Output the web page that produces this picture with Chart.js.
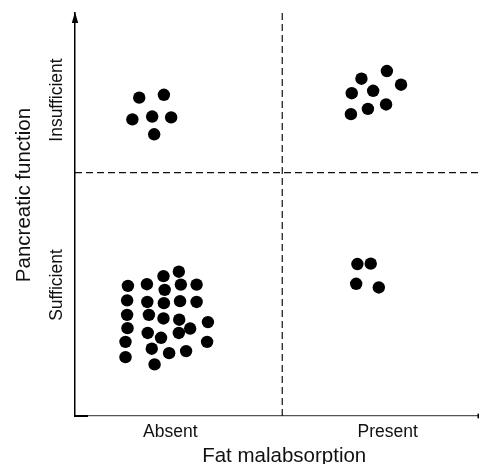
<!DOCTYPE html>
<html>
<head>
<meta charset="utf-8">
<script src="https://cdn.jsdelivr.net/npm/chart.js@4.4.1/dist/chart.umd.min.js"></script>
<style>
  html, body { margin: 0; padding: 0; background: #fff; }
  #wrap { width: 479px; height: 464px; }
</style>
</head>
<body>
<div id="wrap"><canvas id="chart"></canvas></div>
<script>
// category labels and where they sit on the 0-10 scales
const xCategories = ['Absent', 'Present'];
const xCategoryPos = [2.36, 7.74];
const yCategories = ['Sufficient', 'Insufficient'];
const yCategoryPos = [3.25, 7.84];

// quadrant split lines
const splitX = 5.13;
const splitY = 6.04;

// patients, one pair of arrays per quadrant
const insuffAbsentX = [1.59, 2.20, 1.42, 1.91, 2.38, 1.96];
const insuffAbsentY = [7.90, 7.97, 7.36, 7.43, 7.41, 6.99];

const insuffPresentX = [7.72, 7.09, 8.07, 6.85, 7.38, 7.70, 7.25, 6.83];
const insuffPresentY = [8.56, 8.37, 8.22, 8.01, 8.07, 7.73, 7.62, 7.49];

const suffPresentX = [6.99, 7.32, 6.96, 7.52];
const suffPresentY = [3.77, 3.78, 3.28, 3.19];

const suffAbsentX = [2.57, 2.19, 1.31, 1.78, 2.22, 2.62, 3.01, 1.29, 1.79, 2.20,
                     2.60, 3.01, 1.29, 1.83, 2.19, 2.58, 3.29, 1.30, 2.85, 1.80,
                     2.57, 2.13, 1.25, 3.27, 1.90, 2.33, 2.75, 1.25, 1.97];
const suffAbsentY = [3.58, 3.47, 3.23, 3.27, 3.13, 3.26, 3.26, 2.87, 2.83, 2.80,
                     2.85, 2.83, 2.51, 2.51, 2.42, 2.39, 2.33, 2.18, 2.17, 2.06,
                     2.06, 1.94, 1.84, 1.84, 1.67, 1.56, 1.61, 1.46, 1.28];

const FONT = "'Liberation Sans', Arial, Helvetica, sans-serif";

function toPoints(xs, ys) {
  return xs.map((x, i) => ({ x: x, y: ys[i] }));
}

function dotSet(xs, ys) {
  return {
    type: 'scatter',
    data: toPoints(xs, ys),
    pointRadius: 6.2,
    pointHoverRadius: 6.2,
    pointBackgroundColor: '#000',
    pointBorderWidth: 0
  };
}

function dashSet(points) {
  return {
    type: 'line',
    data: points,
    borderColor: '#111',
    borderWidth: 1.2,
    borderDash: [7, 4],
    pointRadius: 0,
    fill: false
  };
}

// rotated y labels, axis titles and arrow heads
const decorations = {
  id: 'decorations',
  afterDraw(chart) {
    const { ctx, chartArea: area, scales } = chart;
    ctx.save();
    ctx.fillStyle = '#000';

    // arrow on the y axis
    ctx.beginPath();
    ctx.moveTo(area.left, area.top - 1);
    ctx.lineTo(area.left - 3.2, area.top + 10);
    ctx.lineTo(area.left + 3.2, area.top + 10);
    ctx.closePath();
    ctx.fill();

    // arrow on the x axis (mostly off the edge)
    ctx.beginPath();
    ctx.moveTo(area.right + 9, area.bottom);
    ctx.lineTo(area.right - 1.5, area.bottom - 2.5);
    ctx.lineTo(area.right - 1.5, area.bottom + 2.5);
    ctx.closePath();
    ctx.fill();

    // heavier bit at the origin
    ctx.fillRect(area.left, area.bottom - 1, 13, 2);

    // y category labels, read bottom to top
    ctx.font = '17.5px ' + FONT;
    ctx.fillStyle = '#111';
    ctx.textAlign = 'center';
    ctx.textBaseline = 'alphabetic';
    yCategories.forEach((label, i) => {
      const py = scales.y.getPixelForValue(yCategoryPos[i]);
      ctx.save();
      ctx.translate(61.5, py);
      ctx.rotate(-Math.PI / 2);
      ctx.fillText(label, 0, 0);
      ctx.restore();
    });

    // axis titles
    ctx.font = '20.5px ' + FONT;
    ctx.fillText('Fat malabsorption', 284.2, 462);
    ctx.save();
    ctx.translate(29.5, 195);
    ctx.rotate(-Math.PI / 2);
    ctx.fillText('Pancreatic function', 0, 0);
    ctx.restore();

    ctx.restore();
  }
};

const ctx = document.getElementById('chart');
new Chart(ctx, {
  data: {
    datasets: [
      dashSet([{ x: splitX, y: 0 }, { x: splitX, y: 10 }]),
      dashSet([{ x: 0, y: splitY }, { x: 10, y: splitY }]),
      dotSet(insuffAbsentX, insuffAbsentY),
      dotSet(insuffPresentX, insuffPresentY),
      dotSet(suffPresentX, suffPresentY),
      dotSet(suffAbsentX, suffAbsentY)
    ]
  },
  options: {
    responsive: true,
    maintainAspectRatio: false,
    animation: false,
    layout: { autoPadding: false, padding: { top: 13, right: 0, left: 0, bottom: 0 } },
    plugins: {
      legend: { display: false },
      tooltip: { enabled: false }
    },
    scales: {
      x: {
        type: 'linear',
        min: 0,
        max: 10,
        grid: { display: false },
        border: { display: true, color: '#555', width: 1.3 },
        afterBuildTicks: (scale) => { scale.ticks = xCategoryPos.map(v => ({ value: v })); },
        afterFit: (scale) => {
          scale.height = 48;
          scale.paddingLeft = 0;
          scale.paddingRight = 0;
        },
        ticks: {
          padding: -2,
          maxRotation: 0,
          color: '#111',
          font: { family: FONT, size: 17.5 },
          callback: (value, index) => xCategories[index]
        }
      },
      y: {
        type: 'linear',
        min: 0,
        max: 10,
        grid: { display: false },
        border: { display: true, color: '#000', width: 1.5 },
        afterBuildTicks: (scale) => { scale.ticks = yCategoryPos.map(v => ({ value: v })); },
        afterFit: (scale) => {
          scale.width = 75;
          scale.paddingTop = 0;
          scale.paddingBottom = 0;
        },
        ticks: { display: false }
      }
    }
  },
  plugins: [decorations]
});
</script>
</body>
</html>
